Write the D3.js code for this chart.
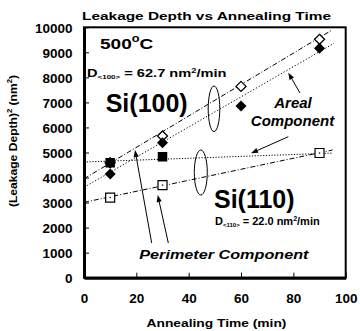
<!DOCTYPE html>
<html>
<head>
<meta charset="utf-8">
<script src="https://cdn.jsdelivr.net/npm/d3@7"></script>
<style>
  html, body { margin: 0; padding: 0; background: #fff; }
  svg { display: block; font-family: "Liberation Sans", Arial, sans-serif; }
</style>
</head>
<body>
<svg id="chart" width="360" height="331"></svg>
<script>
// Annealing times (min) and measured (leakage depth)^2 values (nm^2)
const timeMin = [10, 30, 60, 90];
const si100Total = [4590, 5660, 7640, 9520];   // open diamonds
const si100Areal = [4140, 5390, 6860, 9160];   // filled diamonds
const si110Time = [10, 30, 90];
const si110Total = [3200, 3700, 4980];         // open squares
const perimTime = [10, 30];
const perimeter = [4590, 4830];                // filled squares

// Linear fits: value = intercept + slope * t, drawn from t = 0 to tEnd
const fitIntercept = [3950, 3610, 4620, 3010];
const fitSlope = [62.7, 60.2, 3.75, 22.0];
const fitEnd = [95, 95.5, 95, 95];
const fitDash = ["5,2,1,2", "1.2,2", "1.2,1.6", "5,2,1,2"];

const xTicks = [0, 20, 40, 60, 80, 100];
const yTicks = [0, 1000, 2000, 3000, 4000, 5000, 6000, 7000, 8000, 9000, 10000];

const svg = d3.select("#chart");
const L = 84, R = 345.7, T = 27.3, B = 277.7;
const x = d3.scaleLinear().domain([0, 100]).range([L, R]);
const y = d3.scaleLinear().domain([0, 10000]).range([B, T]);

// frame
svg.append("rect").attr("x", L).attr("y", T).attr("width", R - L).attr("height", B - T)
  .attr("fill", "none").attr("stroke", "#000").attr("stroke-width", 2);

// axes with inward ticks
const xAxis = svg.append("g").attr("transform", `translate(0,${B})`)
  .call(d3.axisBottom(x).tickValues(xTicks).tickFormat(d3.format("d"))
    .tickSizeInner(-5).tickSizeOuter(0));
const yAxis = svg.append("g").attr("transform", `translate(${L},0)`)
  .call(d3.axisLeft(y).tickValues(yTicks).tickFormat(d3.format("d"))
    .tickSizeInner(-5).tickSizeOuter(0));
[xAxis, yAxis].forEach(g => {
  g.select(".domain").attr("stroke", "#000").attr("stroke-width", 3);
  g.selectAll(".tick line").attr("stroke", "#000").attr("stroke-width", 1);
  g.selectAll(".tick text").attr("fill", "#000").attr("font-size", 13.5)
    .attr("font-weight", "bold").attr("font-family", "Liberation Sans, Arial, sans-serif");
});
xAxis.selectAll(".tick text").attr("dy", 0).attr("y", 25.5);
yAxis.selectAll(".tick text").attr("dy", "0.36em").attr("x", -11.5);

// fit lines
const fits = d3.range(fitIntercept.length).map(i => ({
  pts: [[0, fitIntercept[i]], [fitEnd[i], fitIntercept[i] + fitSlope[i] * fitEnd[i]]],
  dash: fitDash[i]
}));
const line = d3.line().x(d => x(d[0])).y(d => y(d[1]));
svg.append("g").selectAll("path").data(fits).join("path")
  .attr("d", d => line(d.pts)).attr("fill", "none").attr("stroke", "#000")
  .attr("stroke-width", 1).attr("stroke-dasharray", d => d.dash);

// markers
const diamond = r => `M0,${-r}L${r},0L0,${r}L${-r},0Z`;
const square = s => `M${-s/2},${-s/2}h${s}v${s}h${-s}Z`;
const marks = svg.append("g");
marks.selectAll(".od").data(timeMin.map((t, i) => [t, si100Total[i]])).join("path")
  .attr("transform", d => `translate(${x(d[0])},${y(d[1])})`).attr("d", diamond(5))
  .attr("fill", "#fff").attr("stroke", "#000").attr("stroke-width", 1.3);
marks.selectAll(".os").data(si110Time.map((t, i) => [t, si110Total[i]])).join("g")
  .attr("transform", d => `translate(${x(d[0])},${y(d[1])})`)
  .each(function() {
    d3.select(this).append("path").attr("d", square(9))
      .attr("fill", "#fff").attr("stroke", "#000").attr("stroke-width", 1.2);
    d3.select(this).append("circle").attr("r", 0.8).attr("fill", "#000");
  });
marks.selectAll(".fs").data(perimTime.map((t, i) => [t, perimeter[i]])).join("path")
  .attr("transform", d => `translate(${x(d[0])},${y(d[1])})`).attr("d", square(9.5))
  .attr("fill", "#000");
marks.selectAll(".fd").data(timeMin.map((t, i) => [t, si100Areal[i]])).join("path")
  .attr("transform", d => `translate(${x(d[0])},${y(d[1])})`).attr("d", diamond(5.5))
  .attr("fill", "#000");

// grouping ellipses
[[214, 108.8, 5.8, 22.8], [200.8, 172.5, 6.5, 22.5]].forEach(([cx, cy, rx, ry]) =>
  svg.append("ellipse").attr("cx", cx).attr("cy", cy).attr("rx", rx).attr("ry", ry)
    .attr("fill", "none").attr("stroke", "#000").attr("stroke-width", 1));

// arrows
function arrow(x1, y1, x2, y2) {
  const a = Math.atan2(y2 - y1, x2 - x1), len = 7, w = 2.6;
  const bx = x2 - len * Math.cos(a), by = y2 - len * Math.sin(a);
  svg.append("line").attr("x1", x1).attr("y1", y1).attr("x2", bx).attr("y2", by)
    .attr("stroke", "#000").attr("stroke-width", 1);
  const px = -Math.sin(a) * w, py = Math.cos(a) * w;
  svg.append("path").attr("d", `M${x2},${y2}L${bx + px},${by + py}L${bx - px},${by - py}Z`)
    .attr("fill", "#000");
}
arrow(300, 93, 288.3, 72.7);
arrow(288.3, 136.7, 251, 153.3);
arrow(151.7, 243, 135, 150);
arrow(168.3, 243, 157.7, 195);

// text helper: parts = [[text, {size, dy}]...], stretched horizontally by sx
function label(px, py, parts, size, opts = {}) {
  const t = svg.append("text")
    .attr("transform", `translate(${px},${py})${opts.rotate ? ` rotate(${opts.rotate})` : ""} scale(${opts.sx || 1},1)`)
    .attr("font-size", size).attr("font-weight", "bold")
    .attr("font-style", opts.italic ? "italic" : "normal")
    .attr("text-anchor", opts.anchor || "start").attr("fill", "#000");
  parts.forEach(p => {
    const [str, o] = typeof p === "string" ? [p, {}] : p;
    const ts = t.append("tspan").text(str);
    if (o.size) ts.attr("font-size", o.size);
    if (o.dy) ts.attr("dy", o.dy);
  });
  return t;
}

label(206.5, 20, ["Leakage Depth vs Annealing Time"], 11.5, { anchor: "middle", sx: 1.34 });
label(216.5, 326.7, ["Annealing Time (min)"], 11.5, { anchor: "middle", sx: 1.2 });
label(17, 141, ["(Leakage Depth)", ["2", { size: 7, dy: -5 }], [" (nm", { dy: 5 }], ["2", { size: 7, dy: -5 }], [")", { dy: 5 }]],
  11, { anchor: "middle", rotate: -90, sx: 1.1 });

label(100, 49, ["500", ["o", { size: 10, dy: -7 }], ["C", { dy: 7 }]], 15, { sx: 1.27 });
label(87, 77, ["D", ["<100>", { size: 6, dy: 2 }], [" = 62.7 nm", { dy: -2 }], ["2", { size: 7, dy: -4 }], ["/min", { dy: 4 }]], 11, { sx: 1.33 });
label(105.7, 111.7, ["Si(100)"], 25);
label(293, 108.3, ["Areal"], 15, { anchor: "middle", italic: true });
label(292.5, 126, ["Component"], 15, { anchor: "middle", italic: true });
label(214, 208.3, ["Si(110)"], 25);
label(215, 225, ["D", ["<110>", { size: 6, dy: 2 }], [" = 22.0 nm", { dy: -2 }], ["2", { size: 7, dy: -4 }], ["/min", { dy: 4 }]], 11);
label(139.3, 259.3, ["Perimeter Component"], 13.5, { italic: true, sx: 1.2 });
</script>
</body>
</html>
